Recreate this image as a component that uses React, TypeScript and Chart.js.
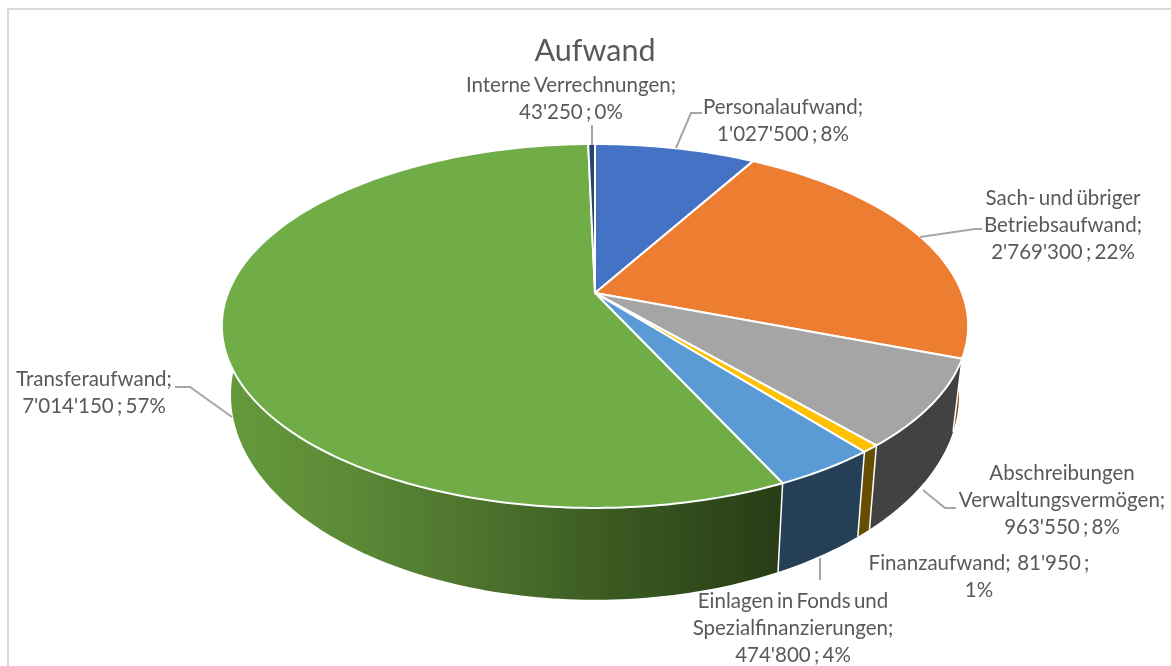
import React, { useEffect, useRef } from "react";
import { Chart, registerables, PieController } from "chart.js";

const categories = [
  "Personalaufwand",
  "Sach- und übriger Betriebsaufwand",
  "Abschreibungen Verwaltungsvermögen",
  "Finanzaufwand",
  "Einlagen in Fonds und Spezialfinanzierungen",
  "Transferaufwand",
  "Interne Verrechnungen",
];
const amounts = [1027500, 2769300, 963550, 81950, 474800, 7014150, 43250];
const topColors = ["#4472C4", "#ED7D31", "#A5A5A5", "#FFC000", "#5B9BD5", "#70AD47", "#264478"];
const sideColors = ["#29446F", "#8A4A1C", "#424242", "#664D00", "#243F56", "", "#16284A"];
const greenSideStops = ["#669A3C", "#5A8836", "#4A6E2B", "#375520", "#283D16"];

const labelLines = [
  ["Personalaufwand;", "1'027'500 ; 8%"],
  ["Sach- und übriger", "Betriebsaufwand;", "2'769'300 ; 22%"],
  ["Abschreibungen", "Verwaltungsvermögen;", "963'550 ; 8%"],
  ["Finanzaufwand;  81'950 ;", "1%"],
  ["Einlagen in Fonds und", "Spezialfinanzierungen;", "474'800 ; 4%"],
  ["Transferaufwand;", "7'014'150 ; 57%"],
  ["Interne Verrechnungen;", "43'250 ; 0%"],
];
const labelAnchors = [
  [783, 107],
  [1063, 198],
  [1062, 473],
  [979, 563],
  [793, 601],
  [94, 379],
  [571, 85],
];
const leaderLines = [
  [[702, 113], [691, 113], [676, 148]],
  [[982, 229], [975, 229], [920, 237]],
  [[956, 508], [945, 508], [923, 490]],
  [],
  [[820, 580], [820, 558]],
  [[175, 387], [190, 387], [232, 417]],
  [[592, 125], [592, 145]],
];

const FONT = "Lato, 'Open Sans', sans-serif";
const K = 0.181;
const CX = 595;
const TOP_PLANE = { a: 367, b: 176, cy: 293 };
const BOTTOM_PLANE = { a: 358, b: 198, cy: 358 };

type Plane = { a: number; b: number; cy: number };

function project(angle: number, p: Plane): [number, number] {
  const u = Math.cos(angle);
  const v = -Math.sin(angle);
  const w = 1 + K * v;
  return [CX + (p.a * u) / w, p.cy - (p.b * v) / w];
}

class Pie3DController extends PieController {
  static id = "pie3d";
  draw() {
    const ctx = this.chart.ctx;
    const arcs = this.getMeta().data as any[];
    const steps = (s: number, e: number) => Math.max(2, Math.ceil(((e - s) * 180) / Math.PI));

    ctx.save();
    // side walls
    arcs.forEach((arc, i) => {
      const { startAngle: s, endAngle: e } = arc.getProps(["startAngle", "endAngle"], true);
      const n = steps(s, e);
      ctx.beginPath();
      for (let j = 0; j <= n; j++) {
        const [x, y] = project(s + ((e - s) * j) / n, TOP_PLANE);
        j === 0 ? ctx.moveTo(x, y) : ctx.lineTo(x, y);
      }
      for (let j = n; j >= 0; j--) {
        const [x, y] = project(s + ((e - s) * j) / n, BOTTOM_PLANE);
        ctx.lineTo(x, y);
      }
      ctx.closePath();
      if (sideColors[i]) {
        ctx.fillStyle = sideColors[i];
      } else {
        const g = ctx.createLinearGradient(225, 0, 778, 0);
        greenSideStops.forEach((c, idx) => g.addColorStop(idx / (greenSideStops.length - 1), c));
        ctx.fillStyle = g;
      }
      ctx.fill();
    });
    // white seams between walls
    ctx.strokeStyle = "#FFFFFF";
    ctx.lineWidth = 1.5;
    arcs.forEach((arc) => {
      const { startAngle: s } = arc.getProps(["startAngle"], true);
      const [x1, y1] = project(s, TOP_PLANE);
      const [x2, y2] = project(s, BOTTOM_PLANE);
      ctx.beginPath();
      ctx.moveTo(x1, y1);
      ctx.lineTo(x2, y2);
      ctx.stroke();
    });
    // top faces
    ctx.lineJoin = "round";
    arcs.forEach((arc) => {
      const { startAngle: s, endAngle: e } = arc.getProps(["startAngle", "endAngle"], true);
      const n = steps(s, e);
      ctx.beginPath();
      ctx.moveTo(CX, TOP_PLANE.cy);
      for (let j = 0; j <= n; j++) {
        const [x, y] = project(s + ((e - s) * j) / n, TOP_PLANE);
        ctx.lineTo(x, y);
      }
      ctx.closePath();
      ctx.fillStyle = arc.options.backgroundColor;
      ctx.fill();
      ctx.strokeStyle = arc.options.borderColor;
      ctx.lineWidth = arc.options.borderWidth;
      ctx.stroke();
    });
    ctx.restore();
  }
}

const framePlugin = {
  id: "frame",
  beforeDraw(chart: any) {
    const { ctx, width, height } = chart;
    ctx.save();
    ctx.fillStyle = "#FFFFFF";
    ctx.fillRect(0, 0, width, height);
    ctx.fillStyle = "#D9D9D9";
    ctx.fillRect(7, 8, width - 7, 2);
    ctx.fillRect(7, 8, 2, height - 8);
    ctx.restore();
  },
};

const labelPlugin = {
  id: "sliceLabels",
  afterDraw(chart: any) {
    const { ctx } = chart;
    ctx.save();
    ctx.strokeStyle = "#A6A6A6";
    ctx.lineWidth = 2;
    leaderLines.forEach((pts) => {
      if (!pts.length) return;
      ctx.beginPath();
      pts.forEach((p, i) => (i === 0 ? ctx.moveTo(p[0], p[1]) : ctx.lineTo(p[0], p[1])));
      ctx.stroke();
    });
    ctx.fillStyle = "#595959";
    ctx.font = `20.5px ${FONT}`;
    (ctx as any).wordSpacing = "-2px";
    ctx.textAlign = "center";
    ctx.textBaseline = "middle";
    labelLines.forEach((lines, i) => {
      lines.forEach((line, j) => {
        ctx.fillText(line, labelAnchors[i][0], labelAnchors[i][1] + j * 27);
      });
    });
    ctx.restore();
  },
};

Chart.register(...registerables, Pie3DController);

export default function App() {
  const ref = useRef<HTMLCanvasElement>(null);
  useEffect(() => {
    const chart = new Chart(ref.current as HTMLCanvasElement, {
      type: "pie3d" as any,
      data: {
        labels: categories,
        datasets: [
          {
            data: amounts,
            backgroundColor: topColors,
            borderColor: "#FFFFFF",
            borderWidth: 2,
            clip: false,
          } as any,
        ],
      },
      options: {
        responsive: false,
        animation: false,
        devicePixelRatio: 1,
        layout: { padding: { left: 19, top: 33 } },
        plugins: {
          legend: { display: false },
          tooltip: { enabled: false },
          title: {
            display: true,
            text: "Aufwand",
            color: "#595959",
            font: { family: FONT, size: 30.5, weight: "normal" },
            padding: 0,
          },
        },
      } as any,
      plugins: [framePlugin, labelPlugin],
    });
    return () => chart.destroy();
  }, []);
  return (
    <div style={{ position: "fixed", left: 0, top: 0, width: 1171, height: 666 }}>
      <canvas ref={ref} width={1171} height={666} style={{ display: "block" }} />
    </div>
  );
}
